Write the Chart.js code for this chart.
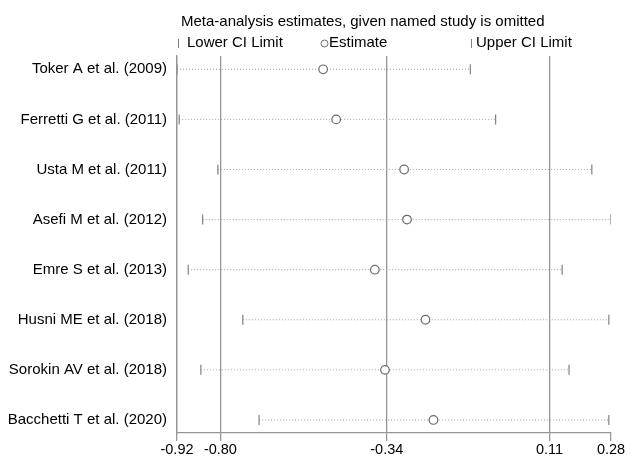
<!DOCTYPE html>
<html>
<head>
<meta charset="utf-8">
<script src="https://cdn.jsdelivr.net/npm/chart.js@4"></script>
<style>
  html, body { margin: 0; padding: 0; background: #fff; }
  #wrap { width: 632px; height: 459px; position: relative; }
</style>
</head>
<body>
<div id="wrap"><canvas id="c" width="632" height="459"></canvas></div>
<script>
const studies = [
  "Toker A et al. (2009)",
  "Ferretti G et al. (2011)",
  "Usta M et al. (2011)",
  "Asefi M et al. (2012)",
  "Emre S et al. (2013)",
  "Husni ME et al. (2018)",
  "Sorokin AV et al. (2018)",
  "Bacchetti T et al. (2020)"
];
const lowerCI  = [-0.920, -0.914, -0.807, -0.849, -0.889, -0.738, -0.854, -0.693];
const estimate = [-0.516, -0.480, -0.292, -0.284, -0.373, -0.233, -0.345, -0.211];
const upperCI  = [-0.109, -0.039,  0.227,  0.280,  0.145,  0.274,  0.164,  0.274];
const xTicks   = [-0.92, -0.80, -0.34, 0.11, 0.28];
const refLines = [-0.80, -0.34, 0.11];
const titleText = "Meta-analysis estimates, given named study is omitted";
const legendLabels = ["Lower CI Limit", "Estimate", "Upper CI Limit"];

const FONT = "'Liberation Sans', Arial, sans-serif";
const GRAY = '#969696';

const datasets = [];
// dotted CI lines
studies.forEach((s, i) => {
  datasets.push({
    type: 'line',
    data: [{x: lowerCI[i], y: i + 1}, {x: upperCI[i], y: i + 1}],
    borderColor: '#a0a0a0',
    borderWidth: 1,
    borderDash: [1, 2],
    pointRadius: 0,
    order: 3
  });
});
// CI end ticks
datasets.push({
  type: 'scatter',
  data: studies.map((s, i) => ({x: lowerCI[i], y: i + 1})).concat(
        studies.map((s, i) => ({x: upperCI[i], y: i + 1}))),
  pointStyle: 'line',
  rotation: 90,
  pointRadius: 5,
  borderColor: '#808080',
  borderWidth: 1.2,
  order: 2
});
// estimates
datasets.push({
  type: 'scatter',
  data: studies.map((s, i) => ({x: estimate[i], y: i + 1})),
  pointStyle: 'circle',
  pointRadius: 4.3,
  borderColor: '#6a6a6a',
  backgroundColor: 'rgba(255,255,255,1)',
  borderWidth: 1.2,
  order: 1
});

const headerPlugin = {
  id: 'header',
  afterDraw(chart) {
    const ctx = chart.ctx;
    ctx.save();
    ctx.fillStyle = '#000';
    ctx.font = '15px ' + FONT;
    ctx.textBaseline = 'middle';
    ctx.textAlign = 'left';
    ctx.fillText(titleText, 181, 22);
    // legend
    const ly = 43;
    ctx.strokeStyle = '#808080';
    ctx.lineWidth = 1;
    ctx.beginPath(); ctx.moveTo(178.5, ly - 4); ctx.lineTo(178.5, ly + 5); ctx.stroke();
    ctx.fillText(legendLabels[0], 187, ly);
    ctx.strokeStyle = '#6a6a6a';
    ctx.beginPath(); ctx.arc(324.5, ly + 0.5, 3.5, 0, Math.PI * 2); ctx.stroke();
    ctx.fillText(legendLabels[1], 329, ly);
    ctx.strokeStyle = '#808080';
    ctx.beginPath(); ctx.moveTo(471.5, ly - 4); ctx.lineTo(471.5, ly + 5); ctx.stroke();
    ctx.fillText(legendLabels[2], 476, ly);
    ctx.restore();
  }
};

new Chart(document.getElementById('c'), {
  data: { datasets },
  options: {
    responsive: false,
    animation: false,
    layout: { padding: { top: 56, right: 21, bottom: 0, left: 0 } },
    plugins: { legend: { display: false }, tooltip: { enabled: false } },
    scales: {
      x: {
        type: 'linear',
        min: -0.92,
        max: 0.28,
        afterBuildTicks: (scale) => { scale.ticks = xTicks.map(v => ({value: v})); },
        afterFit: (scale) => { scale.height = 26; },
        ticks: {
          autoSkip: false,
          maxRotation: 0,
          padding: 0,
          color: '#000',
          font: { family: FONT, size: 14.5 },
          callback: (v) => Number(v).toFixed(2)
        },
        grid: {
          color: (c) => (c.tick && refLines.concat([-0.92]).some(r => Math.abs(r - c.tick.value) < 1e-9)) ? GRAY : 'rgba(0,0,0,0)',
          tickColor: GRAY,
          tickLength: 8,
          lineWidth: 1.3
        },
        border: { display: true, color: GRAY, width: 1.2 }
      },
      y: {
        type: 'linear',
        reverse: true,
        min: 0.735,
        max: 8.26,
        afterBuildTicks: (scale) => { scale.ticks = studies.map((s, i) => ({value: i + 1})); },
        afterFit: (scale) => { scale.width = 177; },
        ticks: {
          autoSkip: false,
          padding: 10,
          color: '#000',
          font: { family: FONT, size: 15 },
          callback: (v) => studies[Math.round(v) - 1] || ''
        },
        grid: { display: false, drawTicks: false },
        border: { display: true, color: GRAY, width: 1.3 }
      }
    }
  },
  plugins: [headerPlugin]
});
</script>
</body>
</html>
